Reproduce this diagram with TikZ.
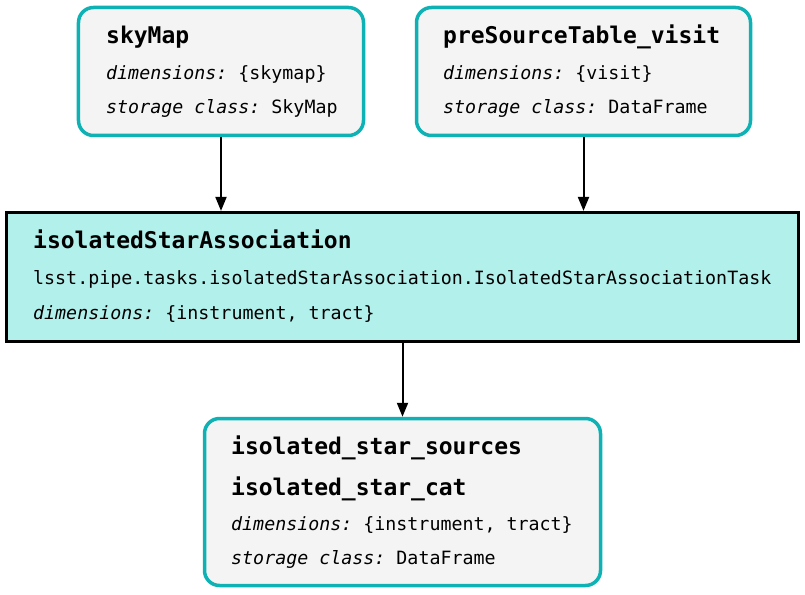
\documentclass[tikz,border=0pt]{standalone}
\usepackage{fontspec}
\setmonofont{DejaVu Sans Mono}
\usetikzlibrary{arrows.meta}
\definecolor{teal1}{RGB}{14,178,180}
\definecolor{boxgray}{RGB}{244,244,244}
\definecolor{taskfill}{RGB}{178,240,236}
\tikzset{
  dsbox/.style={draw=teal1, line width=3.5bp, fill=boxgray, rounded corners=15bp, inner sep=0pt},
  taskbox/.style={draw=black, line width=3.2bp, fill=taskfill, inner sep=0pt},
  ttl/.style={anchor=base west, inner sep=0pt, font=\ttfamily\bfseries\fontsize{23bp}{27bp}\selectfont},
  txt/.style={anchor=base west, inner sep=0pt, font=\ttfamily\fontsize{18.3bp}{22bp}\selectfont},
  arr/.style={line width=2bp, -{Triangle[length=14bp,width=11bp]}}
}
\begin{document}
\begin{tikzpicture}[x=1bp,y=-1bp]
\useasboundingbox (0,0) rectangle (805,595);
% boxes
\node[dsbox, minimum width=285bp, minimum height=128bp] (sky) at (221,71.5) {};
\node[dsbox, minimum width=334bp, minimum height=128bp] (pre) at (583.5,71.5) {};
\node[taskbox, minimum width=792bp, minimum height=129bp] (task) at (402.5,277) {};
\node[dsbox, minimum width=396bp, minimum height=167bp] (out) at (402.5,502) {};
% texts skyMap
\node[ttl] (t1) at (106,44) {skyMap};
\node[txt] (t2) at (106,80) {\itshape dimensions:\upshape{} \{skymap\}};
\node[txt] (t3) at (106,114) {\itshape storage class:\upshape{} SkyMap};
% preSourceTable
\node[ttl] (p1) at (443,44) {preSourceTable\_visit};
\node[txt] (p2) at (443,80) {\itshape dimensions:\upshape{} \{visit\}};
\node[txt] (p3) at (443,114) {\itshape storage class:\upshape{} DataFrame};
% task
\node[ttl] (k1) at (33,248) {isolatedStarAssociation};
\node[txt] (k2) at (33,284) {lsst.pipe.tasks.isolatedStarAssociation.IsolatedStarAssociationTask};
\node[txt] (k3) at (33,319) {\itshape dimensions:\upshape{} \{instrument, tract\}};
% output
\node[ttl] (o1) at (231,454) {isolated\_star\_sources};
\node[ttl] (o2) at (231,495) {isolated\_star\_cat};
\node[txt] (o3) at (231,530) {\itshape dimensions:\upshape{} \{instrument, tract\}};
\node[txt] (o4) at (231,564) {\itshape storage class:\upshape{} DataFrame};
% arrows
\draw[arr] (sky.south) -- (sky.south |- task.north);
\draw[arr] (pre.south) -- (pre.south |- task.north);
\draw[arr] (task.south) -- (out.north);
\end{tikzpicture}
\end{document}
